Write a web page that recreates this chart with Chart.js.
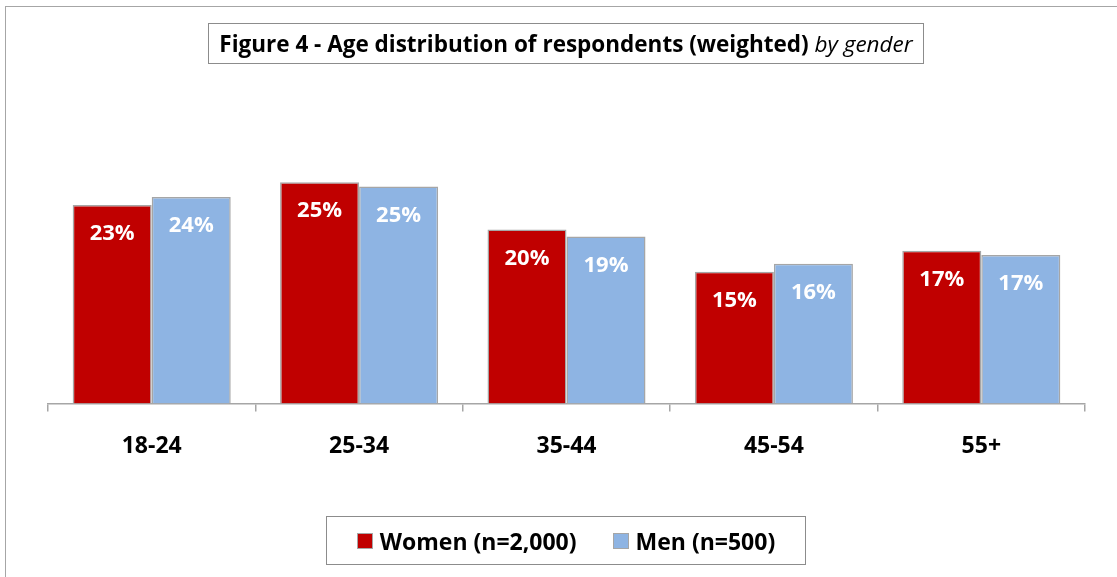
<!DOCTYPE html>
<html>
<head>
<meta charset="utf-8">
<script src="https://cdn.jsdelivr.net/npm/chart.js@4/dist/chart.umd.min.js"></script>
<style>
  html, body { margin:0; padding:0; background:#fff; overflow:hidden; }
  body { width:1117px; height:577px; position:relative; font-family:"Open Sans", sans-serif; }
  #frame { position:absolute; left:5px; top:6px; width:1130px; height:590px; border:1.5px solid #a6a6a6; }
  #titleBox { position:absolute; left:208px; top:23px; width:714px; height:39px; border:1.5px solid #8c8c8c;
    font-size:22.5px; line-height:39px; text-align:center; color:#000; white-space:nowrap; }
  #titleBox b { font-weight:700; }
  #titleBox i { font-weight:400; }
  #chartWrap { position:absolute; left:0; top:0; width:1117px; height:577px; }
  #legendBox { position:absolute; left:326px; top:516px; width:478px; height:47px; border:1.5px solid #8c8c8c;
    display:flex; align-items:center; justify-content:center; gap:36px; font-size:23px; font-weight:700; }
  .item { display:flex; align-items:center; gap:7px; }
  .sw { width:14px; height:14px; border:1px solid #a6a6a6; }
</style>
</head>
<body>
<div id="frame"></div>
<div id="chartWrap"><canvas id="ageChart"></canvas></div>
<div id="titleBox"><b>Figure 4 - Age distribution of respondents (weighted)</b> <i>by gender</i></div>
<div id="legendBox"></div>
<script>
const ageGroups = ["18-24", "25-34", "35-44", "45-54", "55+"];
const women = [22.6, 25.2, 19.8, 15.0, 17.4];
const men = [23.5, 24.7, 19.0, 15.9, 16.9];
const seriesLabels = ["Women (n=2,000)", "Men (n=500)"];
const seriesColors = ["#c00000", "#8eb4e3"];

const valueLabels = {
  id: "valueLabels",
  afterDatasetsDraw(c) {
    const ctx = c.ctx;
    ctx.save();
    ctx.fillStyle = "#fff";
    ctx.font = "bold 22px 'Open Sans', sans-serif";
    ctx.textAlign = "center";
    ctx.textBaseline = "middle";
    c.data.datasets.forEach((ds, i) => {
      c.getDatasetMeta(i).data.forEach((bar, j) => {
        ctx.fillText(Math.round(ds.data[j]) + "%", bar.x, bar.y + 29);
      });
    });
    ctx.restore();
  }
};

const chart = new Chart(document.getElementById("ageChart"), {
  type: "bar",
  data: {
    labels: ageGroups,
    datasets: [
      { label: seriesLabels[0], data: women, backgroundColor: seriesColors[0], borderColor: "#a6a6a6", borderWidth: 1.5 },
      { label: seriesLabels[1], data: men, backgroundColor: seriesColors[1], borderColor: "#a6a6a6", borderWidth: 1.5 }
    ]
  },
  options: {
    responsive: true,
    maintainAspectRatio: false,
    animation: false,
    layout: { padding: { left: 48, right: 32, top: 140, bottom: 96 } },
    datasets: { bar: { categoryPercentage: 0.762, barPercentage: 1.0 } },
    plugins: { legend: { display: false }, tooltip: { enabled: false } },
    scales: {
      y: { display: false, min: 0, max: 30 },
      x: {
        grid: { offset: true, drawOnChartArea: false, drawTicks: true, tickLength: 8, color: "#a6a6a6", lineWidth: 1.5 },
        border: { display: true, color: "#a6a6a6", width: 1.5 },
        ticks: { color: "#000", padding: 21, font: { family: "'Open Sans'", size: 23, weight: "bold" } }
      }
    }
  },
  plugins: [valueLabels]
});

const legendBox = document.getElementById("legendBox");
seriesLabels.forEach((lab, i) => {
  legendBox.insertAdjacentHTML("beforeend",
    `<div class="item"><div class="sw" style="background:${seriesColors[i]}"></div><span>${lab}</span></div>`);
});
</script>
</body>
</html>
